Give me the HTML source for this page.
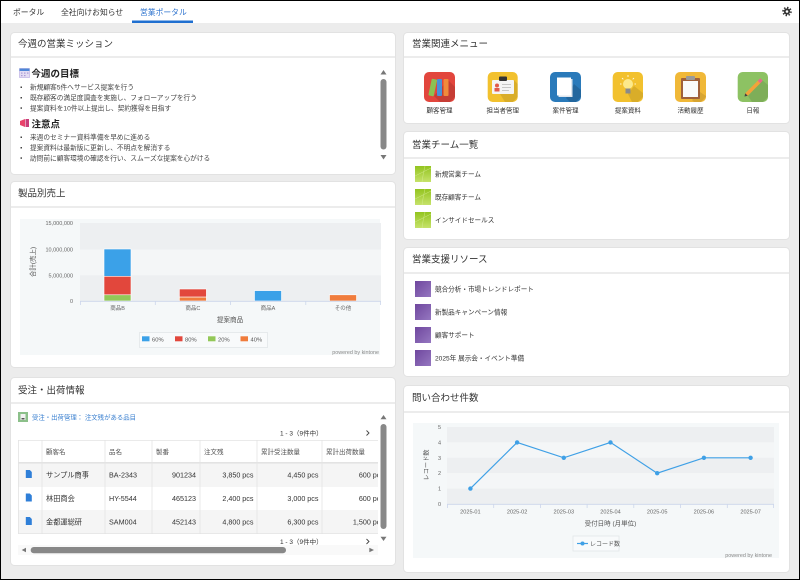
<!DOCTYPE html>
<html><head><meta charset="utf-8">
<style>
html,body{margin:0;padding:0;background:#ececec;}
svg{display:block;}
text{font-family:"Liberation Sans","Noto Sans CJK JP",sans-serif;}
</style></head>
<body>
<svg width="800" height="580" viewBox="0 0 800 580" xmlns="http://www.w3.org/2000/svg">
<defs>
<linearGradient id="gG" x1="0" y1="0" x2="0" y2="1"><stop offset="0" stop-color="#93c41f"/><stop offset="1" stop-color="#c6e26a"/></linearGradient>
<linearGradient id="gP" x1="0" y1="0" x2="1" y2="1"><stop offset="0" stop-color="#6f479e"/><stop offset="1" stop-color="#9577c0"/></linearGradient>
<clipPath id="tblclip"><rect x="18" y="438" width="360" height="100"/></clipPath>
</defs>
<rect x="0" y="0" width="800" height="580" fill="#ececec"/>
<!-- top bar -->
<rect x="0" y="0" width="800" height="23" fill="#fff"/>
<text x="13" y="15" font-size="7.8" fill="#333">ポータル</text>
<text x="61" y="15" font-size="7.8" fill="#333">全社向けお知らせ</text>
<text x="140" y="15" font-size="7.8" fill="#2f74cf">営業ポータル</text>
<rect x="132" y="20.5" width="61" height="2.5" fill="#1f6fd0"/>
<g transform="translate(787,11.5)">
<circle r="3.9" fill="none" stroke="#333" stroke-width="1.8" stroke-dasharray="1.4 1.65"/>
<circle r="3.1" fill="#333"/>
<circle r="1.3" fill="#fff"/>
</g>

<!-- panels -->
<g fill="#fff" stroke="#e2e2e2" stroke-width="1">
<rect x="10.5" y="32.5" width="385" height="142" rx="4"/>
<rect x="10.5" y="181.5" width="385" height="186" rx="4"/>
<rect x="10.5" y="377.5" width="385" height="188" rx="4"/>
<rect x="403.5" y="32.5" width="386" height="91" rx="4"/>
<rect x="403.5" y="131.5" width="386" height="108" rx="4"/>
<rect x="403.5" y="247.5" width="386" height="129" rx="4"/>
<rect x="403.5" y="385.5" width="386" height="187" rx="4"/>
</g>
<g fill="#ececec">
<rect x="11" y="56" width="384" height="2"/>
<rect x="11" y="206" width="384" height="2"/>
<rect x="11" y="402" width="384" height="2"/>
<rect x="404" y="56" width="385" height="2"/>
<rect x="404" y="157" width="385" height="2"/>
<rect x="404" y="272" width="385" height="2"/>
<rect x="404" y="411" width="385" height="2"/>
</g>
<g font-size="9.5" fill="#333">
<text x="18" y="47">今週の営業ミッション</text>
<text x="18" y="196.5">製品別売上</text>
<text x="18" y="393.5">受注・出荷情報</text>
<text x="412" y="47">営業関連メニュー</text>
<text x="412" y="148">営業チーム一覧</text>
<text x="412" y="262.5">営業支援リソース</text>
<text x="412" y="401">問い合わせ件数</text>
</g>

<!-- mission content -->
<rect x="19.5" y="68.5" width="10" height="9" fill="#e3dcf3" stroke="#b7a9e0" stroke-width="0.6"/>
<rect x="19.5" y="68.5" width="10" height="2.5" fill="#4f86d6"/>
<g fill="#a99ad6"><rect x="21" y="72.5" width="1.5" height="1.2"/><rect x="24" y="72.5" width="1.5" height="1.2"/><rect x="27" y="72.5" width="1.5" height="1.2"/><rect x="21" y="75" width="1.5" height="1.2"/><rect x="24" y="75" width="1.5" height="1.2"/></g>
<text x="31.5" y="77" font-size="9.5" font-weight="bold" fill="#222">今週の目標</text>
<g font-size="6.7" fill="#444">
<text x="30" y="89.5">新規顧客5件へサービス提案を行う</text>
<text x="30" y="100">既存顧客の満足度調査を実施し、フォローアップを行う</text>
<text x="30" y="110.3">提案資料を10件以上提出し、契約獲得を目指す</text>
<text x="30" y="139.5">来週のセミナー資料準備を早めに進める</text>
<text x="30" y="150">提案資料は最新版に更新し、不明点を解消する</text>
<text x="30" y="160.3">訪問前に顧客環境の確認を行い、スムーズな提案を心がける</text>
</g>
<g fill="#444"><rect x="20.5" y="86.5" width="1.5" height="1.5"/><rect x="20.5" y="97" width="1.5" height="1.5"/><rect x="20.5" y="107.3" width="1.5" height="1.5"/><rect x="20.5" y="136.5" width="1.5" height="1.5"/><rect x="20.5" y="147" width="1.5" height="1.5"/><rect x="20.5" y="157.3" width="1.5" height="1.5"/></g>
<polygon points="20,121 25,119 25,127 20,125" fill="#e8436a"/>
<rect x="25.5" y="119" width="3.5" height="8" fill="#c93d7a"/>
<text x="31.5" y="127.5" font-size="9.5" font-weight="bold" fill="#222">注意点</text>
<polygon points="380.5,74.5 383.5,70 386.5,74.5" fill="#777"/>
<rect x="380.5" y="79" width="6" height="70.5" rx="3" fill="#888"/>
<polygon points="380.5,155 383.5,159.5 386.5,155" fill="#777"/>

<!-- product chart -->
<rect x="20" y="219" width="360" height="136" fill="#f5f8f9"/>
<rect x="80" y="223" width="301" height="26.7" fill="#edeff1"/>
<rect x="80" y="249.7" width="301" height="25.6" fill="#f4f6f7"/>
<rect x="80" y="275.3" width="301" height="25.7" fill="#edeff1"/>
<g font-size="5.5" fill="#666" text-anchor="end">
<text x="73" y="225">15,000,000</text>
<text x="73" y="251.7">10,000,000</text>
<text x="73" y="277.3">5,000,000</text>
<text x="73" y="303">0</text>
</g>
<text transform="translate(35,262) rotate(-90)" font-size="6.5" fill="#555" text-anchor="middle">合計(売上)</text>
<g stroke="#fff" stroke-width="0.6">
<rect x="104" y="249" width="27" height="27.3" fill="#3ba1e8"/>
<rect x="104" y="276.3" width="27" height="18.5" fill="#e2473c"/>
<rect x="104" y="294.8" width="27" height="6.2" fill="#93c858"/>
<rect x="179.4" y="289" width="27" height="8.1" fill="#e2473c"/>
<rect x="179.4" y="297.1" width="27" height="3.9" fill="#f07c3c"/>
<rect x="254.5" y="290.6" width="27" height="10.4" fill="#3ba1e8"/>
<rect x="329.5" y="294.8" width="27" height="6.2" fill="#f07c3c"/>
</g>
<g stroke="#ccd6eb" stroke-width="0.8">
<line x1="80" y1="301.3" x2="381" y2="301.3"/>
<line x1="80.4" y1="301" x2="80.4" y2="305"/><line x1="155.3" y1="301" x2="155.3" y2="305"/><line x1="230.5" y1="301" x2="230.5" y2="305"/><line x1="305.8" y1="301" x2="305.8" y2="305"/><line x1="380.6" y1="301" x2="380.6" y2="305"/>
</g>
<g font-size="5.5" fill="#666" text-anchor="middle">
<text x="117.6" y="310">商品B</text>
<text x="192.9" y="310">商品C</text>
<text x="268" y="310">商品A</text>
<text x="343" y="310">その他</text>
</g>
<text x="230" y="322" font-size="6.6" fill="#555" text-anchor="middle">提案商品</text>
<rect x="139.5" y="332.5" width="128" height="15" fill="#f8fafb" stroke="#e2e6e9" stroke-width="0.8"/>
<rect x="142" y="336.3" width="7.5" height="5" fill="#3ba1e8"/>
<rect x="175" y="336.3" width="7.5" height="5" fill="#e2473c"/>
<rect x="208" y="336.3" width="7.5" height="5" fill="#93c858"/>
<rect x="240.5" y="336.3" width="7.5" height="5" fill="#f07c3c"/>
<g font-size="5.8" fill="#555">
<text x="152" y="341.3">60%</text><text x="185" y="341.3">80%</text><text x="218" y="341.3">20%</text><text x="250.5" y="341.3">40%</text>
</g>
<text x="379" y="354" font-size="5.4" fill="#888" text-anchor="end">powered by kintone</text>

<!-- order panel -->
<rect x="18" y="412" width="10" height="10" fill="#8cc08a"/>
<rect x="20.5" y="414" width="5" height="6" fill="#f2f2f2"/>
<rect x="21.5" y="418" width="3" height="1.5" fill="#555"/>
<text x="32" y="419.6" font-size="6.4" fill="#3b80d0">受注・出荷管理： 注文残がある品目</text>
<text x="280" y="435.5" font-size="6.5" fill="#333">1 - 3（9件中）</text>
<polyline points="366.5,430.5 369,433 366.5,435.5" fill="none" stroke="#444" stroke-width="0.9"/>
<g clip-path="url(#tblclip)">
<rect x="18" y="440" width="380" height="94" fill="#fff"/>
<rect x="18" y="463" width="380" height="24" fill="#f5f5f5"/>
<rect x="18" y="510" width="380" height="24" fill="#f5f5f5"/>
<g stroke="#e3e3e3" stroke-width="0.8">
<line x1="18" y1="440.4" x2="398" y2="440.4"/>
<line x1="18" y1="533.6" x2="398" y2="533.6"/>
<line x1="18.4" y1="440" x2="18.4" y2="534"/>
<line x1="42" y1="440" x2="42" y2="534"/>
<line x1="105" y1="440" x2="105" y2="534"/>
<line x1="152" y1="440" x2="152" y2="534"/>
<line x1="200" y1="440" x2="200" y2="534"/>
<line x1="257" y1="440" x2="257" y2="534"/>
<line x1="322" y1="440" x2="322" y2="534"/>
</g>
<rect x="18" y="462" width="380" height="1.6" fill="#e3e3e3"/>
<g font-size="6.5" fill="#555">
<text x="46" y="454">顧客名</text><text x="109" y="454">品名</text><text x="156" y="454">製番</text><text x="204" y="454">注文残</text><text x="261" y="454">累計受注数量</text><text x="326" y="454">累計出荷数量</text>
</g>
<g font-size="7.2" fill="#333">
<text x="46" y="477.5">サンプル商事</text><text x="109" y="477.5">BA-2343</text>
<text x="196" y="477.5" text-anchor="end">901234</text><text x="253.5" y="477.5" text-anchor="end">3,850 pcs</text><text x="318.5" y="477.5" text-anchor="end">4,450 pcs</text><text x="384" y="477.5" text-anchor="end">600 pcs</text>
<text x="46" y="501">林田商会</text><text x="109" y="501">HY-5544</text>
<text x="196" y="501" text-anchor="end">465123</text><text x="253.5" y="501" text-anchor="end">2,400 pcs</text><text x="318.5" y="501" text-anchor="end">3,000 pcs</text><text x="384" y="501" text-anchor="end">600 pcs</text>
<text x="46" y="524.5">金都運総研</text><text x="109" y="524.5">SAM004</text>
<text x="196" y="524.5" text-anchor="end">452143</text><text x="253.5" y="524.5" text-anchor="end">4,800 pcs</text><text x="318.5" y="524.5" text-anchor="end">6,300 pcs</text><text x="384" y="524.5" text-anchor="end">1,500 pcs</text>
</g>
</g>
<g fill="#2f7fd8">
<path d="M25.8,470 h4 l2,2 v6 h-6 z"/>
<path d="M25.8,493.5 h4 l2,2 v6 h-6 z"/>
<path d="M25.8,517 h4 l2,2 v6 h-6 z"/>
</g>
<text x="280" y="544" font-size="6.5" fill="#333">1 - 3（9件中）</text>
<polyline points="366.5,539 369,541.5 366.5,544" fill="none" stroke="#444" stroke-width="0.9"/>
<rect x="18" y="545" width="360" height="10" fill="#f9f9f9"/>
<polygon points="26,547.7 21.7,550 26,552.3" fill="#777"/>
<rect x="30.7" y="547" width="255.3" height="6.3" rx="3.1" fill="#888"/>
<polygon points="369.3,547.7 374,550 369.3,552.3" fill="#777"/>
<polygon points="380.5,419.3 383.5,415 386.5,419.3" fill="#777"/>
<rect x="380.5" y="424" width="6" height="105" rx="3" fill="#888"/>
<polygon points="380.5,536.7 383.5,541 386.5,536.7" fill="#777"/>

<!-- menu icons -->
<rect x="424" y="72" width="31" height="30" rx="5" fill="#e2463d"/>
<polygon points="434,96 448,80 455,87 455,97 450,102 440,102" fill="#000" opacity="0.12"/>
<rect x="430" y="79" width="5.5" height="17" rx="1" fill="#8cc152" transform="rotate(12 432.7 87.5)"/>
<rect x="437" y="79" width="5" height="17" rx="1" fill="#4a90d9"/>
<rect x="443.5" y="79" width="5" height="17" rx="1" fill="#f08a3c"/>
<rect x="487.7" y="72" width="30" height="30" rx="5" fill="#f2c12e"/>
<polygon points="500,94 514,80 517.7,84 517.7,97 513,102 505,102" fill="#000" opacity="0.1"/>
<rect x="492" y="80" width="22" height="14" rx="1" fill="#f4f4f4"/>
<rect x="499" y="76.5" width="8" height="4.5" rx="1" fill="#333"/>
<circle cx="497" cy="85.5" r="2" fill="#e05a4a"/>
<rect x="494.5" y="88" width="5" height="3.5" fill="#e05a4a"/>
<g stroke="#bbb" stroke-width="0.8"><line x1="502" y1="84.5" x2="511" y2="84.5"/><line x1="502" y1="87.5" x2="511" y2="87.5"/><line x1="502" y1="90.5" x2="509" y2="90.5"/></g>
<rect x="550" y="72" width="31" height="30" rx="5" fill="#2a7aba"/>
<polygon points="566,98 574,84 581,90 581,97 576,102 570,102" fill="#000" opacity="0.15"/>
<rect x="558.5" y="79" width="14" height="18" fill="#dfe6ee"/>
<rect x="557" y="77.5" width="14" height="18" fill="#fff"/>
<rect x="612.7" y="72" width="30.3" height="30" rx="5" fill="#f2c12e"/>
<polygon points="628,94 634,86 643,93 643,97 638,102 632,102" fill="#000" opacity="0.1"/>
<circle cx="628" cy="84" r="5" fill="#fce98a"/>
<rect x="625.5" y="88.5" width="5" height="5" fill="#8a8a8a"/>
<g stroke="#fff" stroke-width="0.8"><line x1="628" y1="75" x2="628" y2="77"/><line x1="620" y1="84" x2="621.5" y2="84"/><line x1="634.5" y1="84" x2="636" y2="84"/><line x1="622" y1="78" x2="623.3" y2="79.3"/><line x1="634" y1="78" x2="632.7" y2="79.3"/></g>
<rect x="675" y="72" width="31" height="30" rx="5" fill="#f0b838"/>
<polygon points="692,100 700,92 706,96 706,97 701,102 694,102" fill="#000" opacity="0.1"/>
<rect x="681" y="78" width="19" height="21" rx="1" fill="#a0603a"/>
<rect x="683" y="81" width="15" height="16" fill="#fafafa"/>
<rect x="686" y="76" width="9" height="4" rx="1" fill="#999"/>
<rect x="737.7" y="72" width="30.3" height="30" rx="5" fill="#8dc263"/>
<polygon points="748,96 762,80 768,85 768,97 763,102 752,102" fill="#000" opacity="0.1"/>
<line x1="746" y1="95" x2="760" y2="81" stroke="#f2a33a" stroke-width="3.5"/>
<line x1="759" y1="82" x2="761.5" y2="79.5" stroke="#e86a8a" stroke-width="3.5"/>
<polygon points="744.5,96.5 745.2,93.2 747.8,95.8" fill="#444"/>
<g font-size="6.5" fill="#333" text-anchor="middle">
<text x="439.5" y="112.5">顧客管理</text>
<text x="502.7" y="112.5">担当者管理</text>
<text x="565.5" y="112.5">案件管理</text>
<text x="627.9" y="112.5">提案資料</text>
<text x="690.5" y="112.5">活動履歴</text>
<text x="752.9" y="112.5">日報</text>
</g>

<!-- team -->
<g fill="url(#gG)">
<rect x="415" y="166" width="16" height="16"/><rect x="415" y="189" width="16" height="16"/><rect x="415" y="212" width="16" height="16"/>
</g>
<g stroke="#d8ee9a" stroke-width="0.5" fill="none" opacity="0.8">
<path d="M415,176 Q423,172 431,168"/><path d="M422,182 Q423,174 425,166"/>
<path d="M415,199 Q423,195 431,191"/><path d="M422,205 Q423,197 425,189"/>
<path d="M415,222 Q423,218 431,214"/><path d="M422,228 Q423,220 425,212"/>
</g>
<g font-size="6.6" fill="#333">
<text x="435" y="176.3">新規営業チーム</text>
<text x="435" y="199.3">既存顧客チーム</text>
<text x="435" y="222.3">インサイドセールス</text>
</g>
<!-- resources -->
<g fill="url(#gP)">
<rect x="415" y="281" width="16" height="16"/><rect x="415" y="304" width="16" height="16"/><rect x="415" y="327" width="16" height="16"/><rect x="415" y="350" width="16" height="16"/>
</g>
<g font-size="6.6" fill="#333">
<text x="435" y="291.3">競合分析・市場トレンドレポート</text>
<text x="435" y="314.3">新製品キャンペーン情報</text>
<text x="435" y="337.3">顧客サポート</text>
<text x="435" y="360.3">2025年 展示会・イベント準備</text>
</g>

<!-- inquiry chart -->
<rect x="413" y="423" width="366" height="135" fill="#f5f8f9"/>
<rect x="447" y="427" width="327" height="15.4" fill="#edeff1"/>
<rect x="447" y="442.4" width="327" height="15.4" fill="#f4f6f7"/>
<rect x="447" y="457.8" width="327" height="15.4" fill="#edeff1"/>
<rect x="447" y="473.2" width="327" height="15.4" fill="#f4f6f7"/>
<rect x="447" y="488.6" width="327" height="15.4" fill="#edeff1"/>
<g font-size="5.5" fill="#666" text-anchor="end">
<text x="441" y="429">5</text><text x="441" y="444.4">4</text><text x="441" y="459.8">3</text><text x="441" y="475.2">2</text><text x="441" y="490.6">1</text><text x="441" y="506">0</text>
</g>
<text transform="translate(428.5,465) rotate(-90)" font-size="6.2" fill="#555" text-anchor="middle">レコード数</text>
<g stroke="#ccd6eb" stroke-width="0.8">
<line x1="447" y1="504.3" x2="774" y2="504.3"/>
<line x1="447.4" y1="504" x2="447.4" y2="508"/><line x1="493.7" y1="504" x2="493.7" y2="508"/><line x1="540.4" y1="504" x2="540.4" y2="508"/><line x1="587.1" y1="504" x2="587.1" y2="508"/><line x1="633.8" y1="504" x2="633.8" y2="508"/><line x1="680.6" y1="504" x2="680.6" y2="508"/><line x1="727.3" y1="504" x2="727.3" y2="508"/><line x1="773.6" y1="504" x2="773.6" y2="508"/>
</g>
<polyline points="470.4,488.6 517.1,442.4 563.8,457.8 610.5,442.4 657.2,473.2 703.9,457.8 750.6,457.8" fill="none" stroke="#3fa0e6" stroke-width="1.2"/>
<g fill="#3fa0e6">
<circle cx="470.4" cy="488.6" r="2.2"/><circle cx="517.1" cy="442.4" r="2.2"/><circle cx="563.8" cy="457.8" r="2.2"/><circle cx="610.5" cy="442.4" r="2.2"/><circle cx="657.2" cy="473.2" r="2.2"/><circle cx="703.9" cy="457.8" r="2.2"/><circle cx="750.6" cy="457.8" r="2.2"/>
</g>
<g font-size="5.6" fill="#666" text-anchor="middle">
<text x="470.4" y="513.7">2025-01</text><text x="517.1" y="513.7">2025-02</text><text x="563.8" y="513.7">2025-03</text><text x="610.5" y="513.7">2025-04</text><text x="657.2" y="513.7">2025-05</text><text x="703.9" y="513.7">2025-06</text><text x="750.6" y="513.7">2025-07</text>
</g>
<text x="610.5" y="525.5" font-size="6.5" fill="#555" text-anchor="middle">受付日時 (月単位)</text>
<rect x="573" y="536" width="46" height="15" fill="#f8fafb" stroke="#e2e6e9" stroke-width="0.8"/>
<line x1="577" y1="543.5" x2="588" y2="543.5" stroke="#3fa0e6" stroke-width="1.2"/>
<circle cx="582.5" cy="543.5" r="2" fill="#3fa0e6"/>
<text x="590" y="545.8" font-size="6" fill="#555">レコード数</text>
<text x="772" y="557" font-size="5.4" fill="#888" text-anchor="end">powered by kintone</text>

<!-- outer border -->
<rect x="0.5" y="0.5" width="799" height="579" fill="none" stroke="#000" stroke-width="1"/>
</svg>
</body></html>
